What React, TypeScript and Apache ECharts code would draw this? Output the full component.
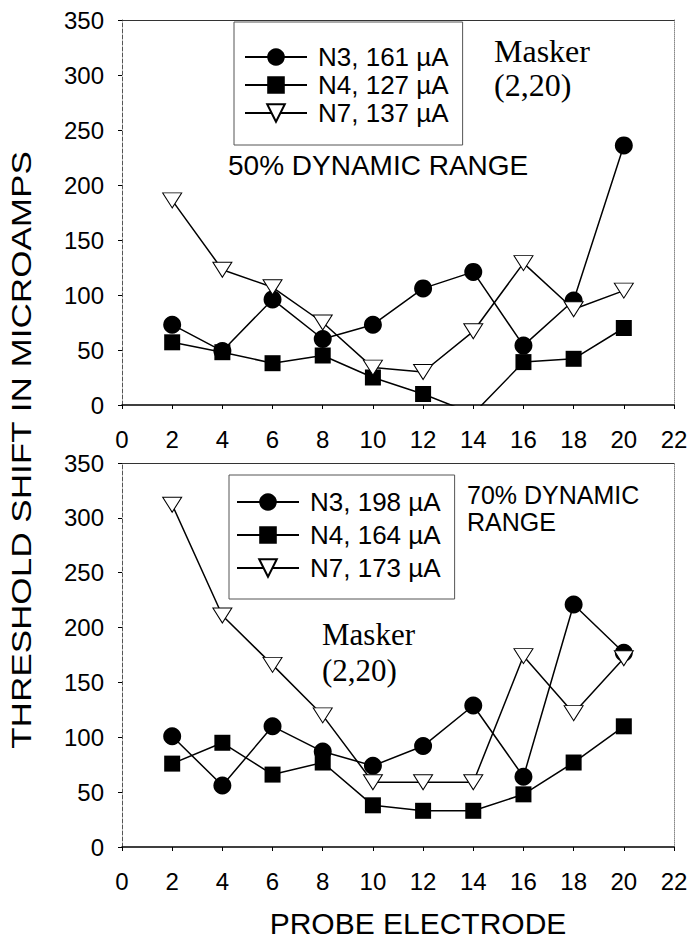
import React, { useEffect, useRef } from "react";
import * as echarts from "echarts";

const electrodes = [2, 4, 6, 8, 10, 12, 14, 16, 18, 20];

// 50% dynamic range panel (top)
const topNames = ["N3, 161 µA", "N4, 127 µA", "N7, 137 µA"];
const top50N3 = [73, 49, 96, 60, 73, 106, 121, 54, 95, 236];
const top50N4 = [57, 48, 38, 45, 25, 10, -8, 39, 42, 70];
const top50N7 = [186, 123, 107, 75, 34, 30, 67, 129, 87, 104];

// 70% dynamic range panel (bottom)
const botNames = ["N3, 198 µA", "N4, 164 µA", "N7, 173 µA"];
const bot70N3 = [101, 56, 110, 87, 74, 92, 129, 64, 221, 177];
const bot70N4 = [76, 95, 66, 77, 38, 33, 33, 48, 77, 110];
const bot70N7 = [312, 211, 166, 120, 59, 59, 59, 174, 122, 172];

const xTicks = { min: 0, max: 22, interval: 2 };
const yTicks = { min: 0, max: 350, interval: 50 };

const SANS = "Liberation Sans, Arial, Helvetica, sans-serif";
const SERIF = "Liberation Serif, Times New Roman, serif";

const pairs = (vals: number[]) => electrodes.map((e, i) => [e, vals[i]]);

export default function App() {
  const ref = useRef<HTMLDivElement>(null);
  useEffect(() => {
    if (!ref.current) return;
    const chart = echarts.init(ref.current, undefined, { renderer: "svg" });

    const grids = [
      { left: 122, right: 17, top: 20, height: 385 },
      { left: 122, right: 17, top: 463, height: 384 },
    ];

    const mainX = (gi: number) => ({
      type: "value",
      gridIndex: gi,
      ...xTicks,
      axisLine: { show: true, onZero: false, lineStyle: { color: "#000", width: 1.5 } },
      axisTick: { show: true, length: 4, lineStyle: { color: "#000" } },
      axisLabel: { fontSize: 24, color: "#000", fontFamily: SANS, margin: 22 },
      splitLine: { show: false },
    });
    const topX = (gi: number) => ({
      type: "value",
      gridIndex: gi,
      position: "top",
      ...xTicks,
      axisLine: { show: true, onZero: false, lineStyle: { color: "#333", width: 1.2 } },
      axisTick: { show: false },
      axisLabel: { show: false },
      splitLine: { show: false },
    });
    const mainY = (gi: number) => ({
      type: "value",
      gridIndex: gi,
      ...yTicks,
      axisLine: { show: true, onZero: false, lineStyle: { color: "#555", width: 1, type: "dashed" } },
      axisTick: { show: true, length: 4, lineStyle: { color: "#000" } },
      axisLabel: { fontSize: 24, color: "#000", fontFamily: SANS, margin: 18 },
      splitLine: { show: false },
    });
    const rightY = (gi: number) => ({
      type: "value",
      gridIndex: gi,
      position: "right",
      ...yTicks,
      axisLine: { show: true, onZero: false, lineStyle: { color: "#888", width: 1, type: "dotted" } },
      axisTick: { show: false },
      axisLabel: { show: false },
      splitLine: { show: false },
    });

    const mk = (name: string, vals: number[], kind: number, gi: number) => {
      const base: any = {
        name,
        type: "line",
        xAxisIndex: gi * 2,
        yAxisIndex: gi * 2,
        data: pairs(vals),
        clip: true,
        lineStyle: { color: "#000", width: 1.5 },
        z: 2 + kind,
      };
      if (kind === 0) {
        base.symbol = "circle";
        base.symbolSize = 18;
        base.itemStyle = { color: "#000" };
      } else if (kind === 1) {
        base.symbol = "rect";
        base.symbolSize = 16;
        base.itemStyle = { color: "#000" };
      } else {
        base.symbol = "triangle";
        base.symbolSize = [19, 15];
        base.symbolRotate = 180;
        base.itemStyle = { color: "#fff", borderColor: "#000", borderWidth: 1 };
      }
      return base;
    };

    const legendCommon = {
      orient: "vertical",
      itemWidth: 62,
      itemHeight: 22,
      backgroundColor: "#fff",
      borderColor: "#555",
      borderWidth: 1,
      textStyle: { fontSize: 26, color: "#000", fontFamily: SANS, padding: [0, 0, 0, 6] },
    };

    const txt = (text: string, x: number, y: number, font: string, extra: any = {}) => ({
      type: "text",
      x,
      y,
      ...extra,
      style: { text, font, fill: "#000", textAlign: "left", textVerticalAlign: "middle", ...(extra.style || {}) },
    });

    chart.setOption({
      animation: false,
      backgroundColor: "#fff",
      grid: grids,
      xAxis: [mainX(0), topX(0), mainX(1), topX(1)],
      yAxis: [mainY(0), rightY(0), mainY(1), rightY(1)],
      legend: [
        {
          ...legendCommon,
          left: 234,
          top: 22,
          itemGap: 2,
          padding: [22, 14, 19, 10],
          data: topNames,
        },
        {
          ...legendCommon,
          left: 229,
          top: 475,
          itemGap: 7,
          padding: [14, 14, 18, 7],
          data: botNames,
        },
      ],
      series: [
        mk(topNames[0], top50N3, 0, 0),
        mk(topNames[1], top50N4, 1, 0),
        mk(topNames[2], top50N7, 2, 0),
        mk(botNames[0], bot70N3, 0, 1),
        mk(botNames[1], bot70N4, 1, 1),
        mk(botNames[2], bot70N7, 2, 1),
      ],
      graphic: [
        {
          type: "text",
          x: 22,
          y: 450,
          rotation: Math.PI / 2,
          scaleX: 1.3,
          style: {
            text: "THRESHOLD SHIFT IN MICROAMPS",
            font: `27px ${SANS}`,
            fill: "#000",
            textAlign: "center",
            textVerticalAlign: "middle",
          },
        },
        {
          type: "text",
          x: 418,
          y: 923,
          style: {
            text: "PROBE ELECTRODE",
            font: `30px ${SANS}`,
            fill: "#000",
            textAlign: "center",
            textVerticalAlign: "middle",
          },
        },
        txt("50% DYNAMIC RANGE", 228, 165, `28px ${SANS}`),
        txt("70% DYNAMIC", 467, 495, `25px ${SANS}`),
        txt("RANGE", 467, 522, `25px ${SANS}`),
        txt("Masker", 494, 51, `32px ${SERIF}`),
        txt("(2,20)", 494, 85, `32px ${SERIF}`),
        txt("Masker", 322, 634, `31px ${SERIF}`),
        txt("(2,20)", 322, 670, `31px ${SERIF}`),
      ],
    });
    return () => chart.dispose();
  }, []);
  return <div ref={ref} style={{ width: 691, height: 941, position: "absolute", left: 0, top: 0 }} />;
}
